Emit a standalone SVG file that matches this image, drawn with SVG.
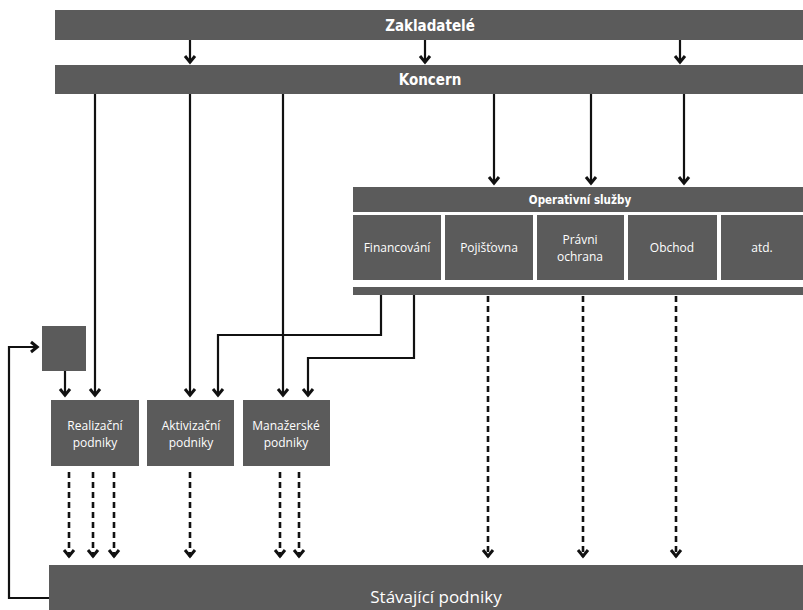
<svg xmlns="http://www.w3.org/2000/svg" width="803" height="610" viewBox="0 0 803 610">
  <style>
    .box { fill: #5b5b5b; }
    .t { fill: #ffffff; font-family: "Open Sans", "DejaVu Sans", sans-serif; text-anchor: middle; font-size: 12px; }
    .tb { fill: #ffffff; font-family: "DejaVu Sans Condensed", "DejaVu Sans", sans-serif; font-weight: bold; text-anchor: middle; }
    .s { fill: none; stroke: #111; stroke-width: 2.2; }
    .d { fill: none; stroke: #111; stroke-width: 2.6; stroke-dasharray: 6 4; }
  </style>
  <defs>
    <marker id="ah" viewBox="-10 -7 12 14" refX="0" refY="0" markerWidth="12" markerHeight="14" markerUnits="userSpaceOnUse" orient="auto">
      <path d="M-7,-5 L-0.8,0 L-7,5" fill="none" stroke="#111" stroke-width="3"/>
    </marker>
  </defs>
  <rect width="803" height="610" fill="#ffffff"/>

  <g id="zakladatele">
    <rect class="box" x="55" y="10" width="748" height="30"/>
    <text class="tb" x="430" y="31" font-size="15">Zakladatelé</text>
  </g>
  <g id="koncern">
    <rect class="box" x="55" y="65" width="748" height="29"/>
    <text class="tb" x="430" y="85" font-size="15">Koncern</text>
  </g>
  <g id="operativni">
    <rect class="box" x="353" y="187" width="450" height="25"/>
    <text class="tb" x="580" y="204" font-size="11.5">Operativní služby</text>
    <rect class="box" x="353" y="287" width="450" height="8"/>
  </g>
  <g id="financovani">
    <rect class="box" x="353" y="215" width="88" height="65"/>
    <text class="t" x="397" y="252">Financování</text>
  </g>
  <g id="pojistovna">
    <rect class="box" x="445" y="215" width="88" height="65"/>
    <text class="t" x="489" y="252">Pojišťovna</text>
  </g>
  <g id="pravni">
    <rect class="box" x="537" y="215" width="87" height="65"/>
    <text class="t" x="580" y="244">Právni</text>
    <text class="t" x="580" y="261">ochrana</text>
  </g>
  <g id="obchod">
    <rect class="box" x="628" y="215" width="89" height="65"/>
    <text class="t" x="672" y="252">Obchod</text>
  </g>
  <g id="atd">
    <rect class="box" x="721" y="215" width="82" height="65"/>
    <text class="t" x="762" y="252">atd.</text>
  </g>
  <g id="ctverec">
    <rect class="box" x="42" y="326" width="44" height="45"/>
  </g>
  <g id="realizacni">
    <rect class="box" x="51" y="400" width="88" height="66"/>
    <text class="t" x="95" y="430">Realizační</text>
    <text class="t" x="95" y="447">podniky</text>
  </g>
  <g id="aktivizacni">
    <rect class="box" x="147" y="400" width="87" height="66"/>
    <text class="t" x="191" y="430">Aktivizační</text>
    <text class="t" x="191" y="447">podniky</text>
  </g>
  <g id="manazerske">
    <rect class="box" x="243" y="400" width="87" height="66"/>
    <text class="t" x="286" y="430">Manažerské</text>
    <text class="t" x="286" y="447">podniky</text>
  </g>
  <g id="stavajici">
    <rect class="box" x="49" y="565" width="754" height="45"/>
    <text class="t" x="436" y="603" style="font-size:17px">Stávající podniky</text>
  </g>

  <g id="connectors">
    <line class="s" x1="190" y1="40" x2="190" y2="63" marker-end="url(#ah)"/>
    <line class="s" x1="425" y1="40" x2="425" y2="63" marker-end="url(#ah)"/>
    <line class="s" x1="680" y1="40" x2="680" y2="63" marker-end="url(#ah)"/>

    <line class="s" x1="494" y1="94" x2="494" y2="184" marker-end="url(#ah)"/>
    <line class="s" x1="591" y1="94" x2="591" y2="184" marker-end="url(#ah)"/>
    <line class="s" x1="684" y1="94" x2="684" y2="184" marker-end="url(#ah)"/>

    <line class="s" x1="95" y1="94" x2="95" y2="396" marker-end="url(#ah)"/>
    <line class="s" x1="190" y1="94" x2="190" y2="396" marker-end="url(#ah)"/>
    <line class="s" x1="283" y1="94" x2="283" y2="396" marker-end="url(#ah)"/>

    <path class="s" d="M381,295 L381,335 L218,335 L218,396" marker-end="url(#ah)"/>
    <path class="s" d="M414,295 L414,358 L308,358 L308,396" marker-end="url(#ah)"/>

    <line class="s" x1="65" y1="371" x2="65" y2="396" marker-end="url(#ah)"/>
    <path class="s" d="M49,598 L9,598 L9,347 L38,347" marker-end="url(#ah)"/>

    <line class="d" x1="488" y1="296" x2="488" y2="557" marker-end="url(#ah)"/>
    <line class="d" x1="583" y1="296" x2="583" y2="557" marker-end="url(#ah)"/>
    <line class="d" x1="676" y1="296" x2="676" y2="557" marker-end="url(#ah)"/>

    <line class="d" x1="69" y1="472" x2="69" y2="557" marker-end="url(#ah)"/>
    <line class="d" x1="93" y1="472" x2="93" y2="557" marker-end="url(#ah)"/>
    <line class="d" x1="114" y1="472" x2="114" y2="557" marker-end="url(#ah)"/>
    <line class="d" x1="190" y1="472" x2="190" y2="557" marker-end="url(#ah)"/>
    <line class="d" x1="280" y1="472" x2="280" y2="557" marker-end="url(#ah)"/>
    <line class="d" x1="299" y1="472" x2="299" y2="557" marker-end="url(#ah)"/>
  </g>
</svg>
